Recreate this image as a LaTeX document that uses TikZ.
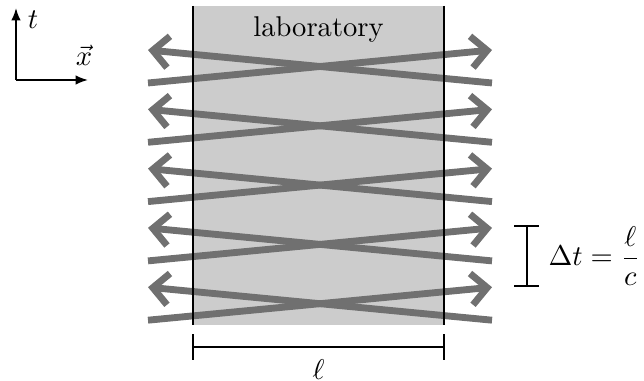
\documentclass[tikz,border=0pt]{standalone}
\usetikzlibrary{arrows.meta}
\definecolor{beamc}{gray}{0.44}
\definecolor{labc}{gray}{0.8}
\begin{document}
\begin{tikzpicture}[x=0.35pt,y=-0.35pt,
  beam/.style={draw=beamc, line width=2.4pt, -{Straight Barb[length=5.5pt,width=11pt]}},
  wall/.style={line width=0.75pt},
  axis/.style={line width=0.6pt, -{Latex[length=4.3pt,width=3.3pt]}},
  dim/.style={line width=0.6pt}]
\useasboundingbox (0,0) rectangle (644,381);
% laboratory
\fill[labc] (193,6) rectangle (444,325);
\node[anchor=base] (lab) at (318.5,37) {laboratory};
% beams
\foreach \k in {0,...,4}{
  \pgfmathsetmacro{\yt}{50+59.3*\k}
  \pgfmathsetmacro{\yb}{83+59.3*\k}
  \coordinate (L\k t) at (148,\yt);
  \coordinate (L\k b) at (148,\yb);
  \coordinate (R\k t) at (492,\yt);
  \coordinate (R\k b) at (492,\yb);
  \draw[beam] (L\k b) -- (R\k t);
  \draw[beam] (R\k b) -- (L\k t);
}
% walls
\coordinate (wlt) at (193,6); \coordinate (wlb) at (193,325);
\coordinate (wrt) at (444,6); \coordinate (wrb) at (444,325);
\draw[wall] (wlt) -- (wlb);
\draw[wall] (wrt) -- (wrb);
% axes
\coordinate (O) at (16,80);
\coordinate (T) at (16,8);
\coordinate (X) at (88,80);
\draw[axis] (O) -- (T);
\draw[axis] (O) -- (X);
\node (tl) at (33,20) {$t$};
\node (xl) at (84,55) {$\vec{x}$};
% length bracket
\coordinate (b1) at (193,347); \coordinate (b2) at (444,347);
\draw[dim] (b1) -- (b2);
\draw[dim] ([yshift=-13*0.35pt]b1) -- ([yshift=13*0.35pt]b1);
\draw[dim] ([yshift=-13*0.35pt]b2) -- ([yshift=13*0.35pt]b2);
\node[inner sep=0pt] (ell) at (318.5,370) {$\ell$};
% time bracket
\coordinate (d1) at (527,226); \coordinate (d2) at (527,286);
\draw[dim] (d1) -- (d2);
\draw[dim] ([xshift=-13*0.35pt]d1) -- ([xshift=12*0.35pt]d1);
\draw[dim] ([xshift=-13*0.35pt]d2) -- ([xshift=12*0.35pt]d2);
\node[anchor=west, inner sep=0pt] (dt) at (548,256) {$\displaystyle\Delta t = \frac{\ell}{c}$};
\end{tikzpicture}
\end{document}
